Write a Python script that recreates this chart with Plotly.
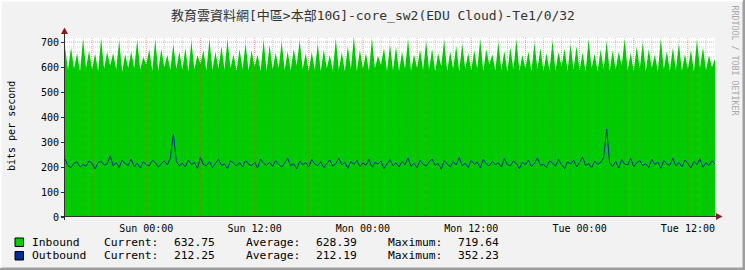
import plotly.graph_objects as go
import pandas as pd

# ---------------- data ----------------
start_time = "2024-01-06 15:00"
times = pd.date_range(start_time, periods=217, freq="20min")

inbound = [
    680, 588, 678, 592, 655, 583,
    712, 596, 664, 590, 654, 584,
    713, 593, 660, 605, 655, 590,
    705, 581, 652, 595, 662, 594,
    706, 590, 640, 610, 670, 585,
    708, 584, 672, 598, 649, 588,
    690, 592, 661, 588, 676, 581,
    703, 590, 648, 612, 667, 586,
    710, 587, 660, 593, 683, 589,
    709, 595, 651, 584, 671, 592,
    694, 586, 666, 602, 650, 583,
    706, 585, 688, 590, 657, 595,
    700, 587, 663, 585, 672, 606,
    705, 592, 655, 583, 660, 589,
    692, 583, 670, 594, 648, 586,
    711, 589, 659, 582, 683, 591,
    719.64, 584, 668, 592, 655, 585,
    713, 594, 645, 608, 676, 584,
    689, 586, 681, 583, 660, 593,
    709, 585, 650, 595, 669, 588,
    701, 590, 673, 582, 655, 604,
    707, 584, 662, 591, 684, 583,
    693, 593, 656, 586, 667, 592,
    711, 583, 671, 609, 651, 586,
    699, 588, 664, 581, 679, 590,
    710, 585, 648, 594, 662, 583,
    696, 591, 675, 584, 656, 587,
    704, 586, 660, 603, 673, 585,
    691, 589, 683, 586, 658, 581,
    709, 595, 653, 583, 670, 592,
    702, 584, 667, 590, 661, 607,
    712, 587, 657, 582, 682, 594,
    697, 583, 672, 595, 650, 584,
    712, 591, 663, 584, 677, 588,
    694, 585, 651, 592, 668, 582,
    707, 594, 679, 587, 646, 599,
    632.75,
]

outbound = [
    232, 205, 198, 215, 220, 200, 210, 203, 225, 215, 192, 218,
    222, 208, 212, 245, 205, 218, 198, 228, 213, 207, 232, 200,
    215, 196, 221, 210, 204, 227, 218, 200, 212, 225, 208, 235,
    332, 222, 205, 215, 200, 228, 210, 218, 195, 238, 210, 205,
    222, 198, 216, 230, 207, 212, 193, 225, 215, 204, 218, 200,
    227, 211, 205, 220, 196, 232, 214, 207, 219, 202, 226, 210,
    199, 217, 235, 205, 213, 192, 224, 209, 218, 200, 230, 212,
    206, 221, 197, 215, 228, 203, 213, 235, 208, 219, 195, 222,
    210, 226, 201, 216, 207, 231, 198, 218, 212, 224, 194, 213,
    229, 205, 217, 200, 222, 210, 236, 203, 215, 197, 226, 211,
    204, 219, 232, 207, 214, 191, 225, 212, 201, 221, 208, 238,
    206, 215, 198, 227, 211, 220, 196, 230, 213, 204, 222, 209,
    217, 199, 233, 210, 205, 224, 214, 193, 220, 208, 228, 201,
    215, 236, 207, 211, 198, 225, 216, 203, 230, 209, 194, 221,
    212, 227, 200, 218, 239, 206, 213, 197, 224, 210, 218, 238,
    352.23, 214, 203, 222, 196, 229, 211, 208, 234, 201, 217, 226,
    205, 213, 198, 231, 210, 220, 195, 226, 212, 207, 235, 203,
    219, 200, 228, 214, 196, 223, 209, 233, 199, 217, 206, 225,
    212.25,
]

y_tick_values = [0, 100, 200, 300, 400, 500, 600, 700]
series_names = ["Inbound", "Outbound"]
series_colors = ["#00CC00", "#002A97"]
stat_labels = ["Current:", "Average:", "Maximum:"]
inbound_stats = ["632.75", "628.39", "719.64"]
outbound_stats = ["212.25", "212.19", "352.23"]
title_text = "教育雲資料網[中區>本部10G]-core_sw2(EDU Cloud)-Te1/0/32"
y_title = "bits per second"
side_text = "RRDTOOL / TOBI OETIKER"

# ---------------- geometry helpers ----------------
W, H = 745, 270
L, R, T, B = 65, 30, 37, 53
PW, PH = W - L - R, H - T - B


def px(x):
    return (x - L) / PW


def py(y):
    return (H - B - y) / PH


MONO = "DejaVu Sans Mono, Noto Sans CJK TC, monospace"

fig = go.Figure()
fig.add_trace(go.Scatter(
    x=times, y=inbound, mode="lines", fill="tozeroy",
    fillcolor=series_colors[0], line=dict(width=0, color=series_colors[0]),
    hoverinfo="skip"))
fig.add_trace(go.Scatter(
    x=times, y=outbound, mode="lines",
    line=dict(width=1, color=series_colors[1]), hoverinfo="skip"))

shapes = []
# grid lines drawn above the data, like rrdtool
minor_col = "rgba(110,110,110,0.35)"
major_col = "rgba(255,40,40,0.50)"
for h in range(1, 72):
    t = times[0] + pd.Timedelta(hours=h)
    major = (t.hour % 6 == 0)
    ts = t.strftime("%Y-%m-%d %H:%M:%S")
    shapes.append(dict(type="line", xref="x", yref="paper", x0=ts, x1=ts, y0=0, y1=1,
                       layer="above",
                       line=dict(color=major_col if major else minor_col, width=1, dash="1px,1px")))
for v in range(20, 721, 20):
    major = (v % 100 == 0)
    shapes.append(dict(type="line", xref="paper", yref="y", x0=0, x1=1, y0=v, y1=v,
                       layer="above",
                       line=dict(color=major_col if major else minor_col, width=1, dash="1px,1px")))

axis_col = "#303030"
arrow_col = "#8B1A1A"
# axes
shapes.append(dict(type="line", xref="paper", yref="paper", x0=px(64.5), x1=px(64.5),
                   y0=py(220), y1=py(31), layer="above", line=dict(color=axis_col, width=1)))
shapes.append(dict(type="line", xref="paper", yref="paper", x0=px(61), x1=px(718),
                   y0=py(216.5), y1=py(216.5), layer="above", line=dict(color=axis_col, width=1)))
shapes.append(dict(type="path", xref="paper", yref="paper",
                   path=f"M {px(61)},{py(34)} L {px(68)},{py(34)} L {px(64.5)},{py(27.5)} Z",
                   fillcolor=arrow_col, line=dict(width=0), layer="above"))
shapes.append(dict(type="path", xref="paper", yref="paper",
                   path=f"M {px(716)},{py(213)} L {px(716)},{py(220)} L {px(722.5)},{py(216.5)} Z",
                   fillcolor=arrow_col, line=dict(width=0), layer="above"))
# frame shadow
shapes.append(dict(type="rect", xref="paper", yref="paper", x0=px(742.5), x1=px(745),
                   y0=py(270), y1=py(0), fillcolor="#9E9E9E", line=dict(width=0), layer="above"))
shapes.append(dict(type="rect", xref="paper", yref="paper", x0=px(0), x1=px(745),
                   y0=py(270), y1=py(267.5), fillcolor="#9E9E9E", line=dict(width=0), layer="above"))
shapes.append(dict(type="rect", xref="paper", yref="paper", x0=px(0), x1=px(1.5),
                   y0=py(268), y1=py(0), fillcolor="#FFFFFF", line=dict(width=0), layer="above"))
shapes.append(dict(type="rect", xref="paper", yref="paper", x0=px(0), x1=px(743),
                   y0=py(1.5), y1=py(0), fillcolor="#FFFFFF", line=dict(width=0), layer="above"))

annotations = []
annotations.append(dict(text=title_text, xref="paper", yref="paper", x=px(373), y=py(15),
                        xanchor="center", yanchor="middle", showarrow=False,
                        font=dict(family=MONO, size=13, color="#333333")))
annotations.append(dict(text=y_title, xref="paper", yref="paper", x=px(11), y=py(126),
                        xanchor="center", yanchor="middle", showarrow=False, textangle=-90,
                        font=dict(family=MONO, size=10, color="#000000")))
annotations.append(dict(text=side_text, xref="paper", yref="paper", x=px(734.5), y=py(60),
                        xanchor="center", yanchor="middle", showarrow=False, textangle=90,
                        font=dict(family=MONO, size=8.3, color="#A8A8A8")))

rows_y = [242, 255.5]
stats_rows = [inbound_stats, outbound_stats]
label_x = [102, 244, 386]
value_x = [172, 314, 456]
for i, name in enumerate(series_names):
    yc = rows_y[i]
    shapes.append(dict(type="rect", xref="paper", yref="paper", x0=px(15), x1=px(23.5),
                       y0=py(yc + 4.5), y1=py(yc - 4), fillcolor=series_colors[i],
                       line=dict(color="#000000", width=1), layer="above"))
    annotations.append(dict(text=name, xref="paper", yref="paper", x=px(30), y=py(yc),
                            xanchor="left", yanchor="middle", showarrow=False,
                            font=dict(family=MONO, size=11.3, color="#000000")))
    for j, lab in enumerate(stat_labels):
        annotations.append(dict(text=lab, xref="paper", yref="paper", x=px(label_x[j]), y=py(yc),
                                xanchor="left", yanchor="middle", showarrow=False,
                                font=dict(family=MONO, size=11.3, color="#000000")))
        annotations.append(dict(text=stats_rows[i][j], xref="paper", yref="paper",
                                x=px(value_x[j]), y=py(yc),
                                xanchor="left", yanchor="middle", showarrow=False,
                                font=dict(family=MONO, size=11.3, color="#000000")))

fig.update_layout(
    width=W, height=H,
    margin=dict(l=L, r=R, t=T, b=B, pad=0),
    paper_bgcolor="#F2F2F2", plot_bgcolor="#FFFFFF",
    showlegend=False,
    xaxis=dict(type="date", range=[times[0], times[-1]], showgrid=False, zeroline=False,
               showline=False, tickformat="%a %H:%M", dtick=12 * 3600 * 1000,
               tick0="2024-01-07 00:00", ticks="outside", ticklen=2, tickcolor="rgba(0,0,0,0)",
               tickfont=dict(family=MONO, size=10, color="#000000")),
    yaxis=dict(range=[0, 720], tickvals=y_tick_values, showgrid=False, zeroline=False,
               showline=False, ticks="outside", ticklen=3, tickcolor=axis_col,
               tickfont=dict(family=MONO, size=10, color="#000000")),
    shapes=shapes, annotations=annotations,
)

fig.write_html("out.html")
